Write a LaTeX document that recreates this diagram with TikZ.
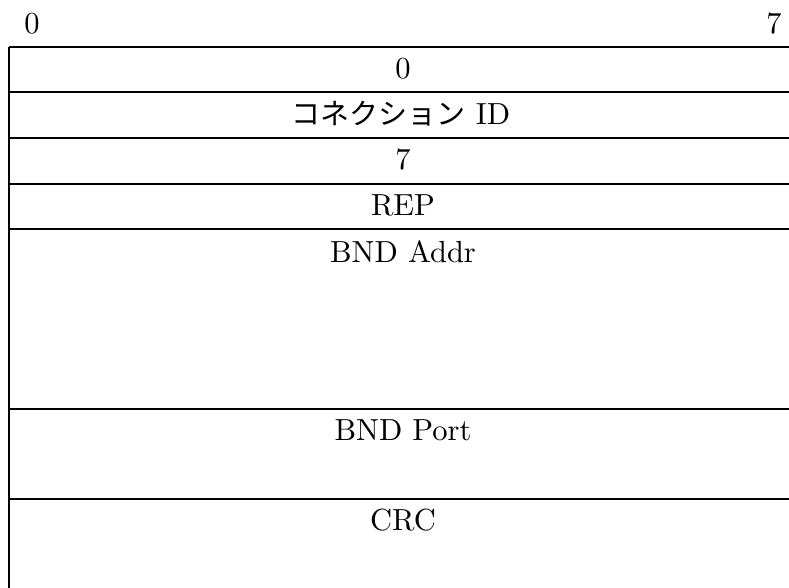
\documentclass[tikz,border=0pt]{standalone}
\usepackage{fontspec}
\usepackage{graphicx}
\newfontfamily\jpfont{Noto Sans CJK JP}
\newcommand{\bigtxt}[1]{\scalebox{3.05}{\fontsize{10}{12}\selectfont #1}}
\begin{document}
\begin{tikzpicture}[x=1pt,y=-1pt,
  rule/.style={line width=1.6pt,black},
  lbl/.style={anchor=base,inner sep=0pt}]
\useasboundingbox (0,0) rectangle (789,587);
\fill[white] (0,0) rectangle (789,587);
% bit labels
\node[lbl] (b0) at (32,33) {\bigtxt{0}};
\node[lbl] (b7) at (774,33) {\bigtxt{7}};
% left edge
\draw[rule] (9,47) -- (9,590);
% row separators
\foreach \y in {47,92,138,184,229,409,499}{
  \draw[rule] (9,\y) -- (800,\y);
}
% row texts
\node[lbl] (r0) at (403,78) {\bigtxt{0}};
\node[lbl] (r1) at (401,124) {\bigtxt{{\jpfont\fontsize{9.5}{12}\selectfont コネクション} ID}};
\node[lbl] (r2) at (403,169) {\bigtxt{7}};
\node[lbl] (r3) at (403,215) {\bigtxt{REP}};
\node[lbl] (r4) at (403,262) {\bigtxt{BND Addr}};
\node[lbl] (r5) at (403,440) {\bigtxt{BND Port}};
\node[lbl] (r6) at (403,530) {\bigtxt{CRC}};
\end{tikzpicture}
\end{document}
